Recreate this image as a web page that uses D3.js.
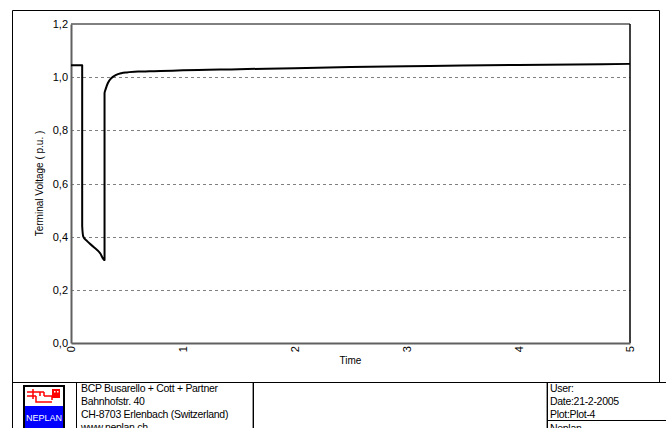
<!DOCTYPE html>
<html>
<head>
<meta charset="utf-8">
<script src="https://cdn.jsdelivr.net/npm/d3@7"></script>
<style>
  body { margin: 0; background: #fff; }
  svg { display: block; font-family: "Liberation Sans", Arial, sans-serif; }
  .ax text { font-size: 11px; fill: #000; }
  .ft { font-size: 10.5px; fill: #000; letter-spacing: -0.3px; }
</style>
</head>
<body>
<script>
// curve (time in s, voltage in p.u.)
var time    = [0, 0.1, 0.1, 0.11, 0.14, 0.2, 0.26, 0.3, 0.3, 0.31, 0.33, 0.36, 0.4, 0.45, 0.5, 0.6, 0.7, 0.8, 1.0, 1.5, 2.0, 2.5, 3.0, 3.5, 4.0, 4.5, 5.0];
var voltage = [1.045, 1.045, 0.44, 0.40, 0.385, 0.362, 0.338, 0.312, 0.94, 0.955, 0.978, 0.996, 1.008, 1.015, 1.018, 1.021, 1.022, 1.023, 1.026, 1.030, 1.034, 1.038, 1.041, 1.044, 1.046, 1.048, 1.050];
var yTicks = [0, 0.2, 0.4, 0.6, 0.8, 1.0, 1.2];
var xTicks = [0, 1, 2, 3, 4, 5];
var footerLeft = ["BCP Busarello + Cott + Partner", "Bahnhofstr. 40", "CH-8703 Erlenbach (Switzerland)", "www.neplan.ch"];
var footerRight = ["User:", "Date:21-2-2005", "Plot:Plot-4"];

var width = 666,
    height = 428;

var svg = d3.select("body").append("svg")
    .attr("width", width)
    .attr("height", height);

var x = d3.scaleLinear().domain([0, 5]).range([71, 630]);
var y = d3.scaleLinear().domain([0, 1.2]).range([343, 24]);

var fmt = function(d) { return d3.format(".1f")(d).replace(".", ","); };

// outer frame
svg.append("path")
    .attr("d", "M12.5,428V10.5H659.5V382")
    .attr("fill", "none")
    .attr("stroke", "#000");

// grid
svg.append("g").selectAll("line")
    .data(yTicks.filter(function(d) { return d > 0 && d < 1.2; }))
  .enter().append("line")
    .attr("x1", x(0)).attr("x2", x(5))
    .attr("y1", function(d) { return Math.round(y(d)) + 0.5; })
    .attr("y2", function(d) { return Math.round(y(d)) + 0.5; })
    .attr("stroke", "#808080")
    .attr("stroke-dasharray", "3,3");

// plot box
svg.append("line").attr("x1", x(0)).attr("x2", x(5)).attr("y1", y(1.2)).attr("y2", y(1.2))
    .attr("stroke", "#808080").attr("stroke-width", 2);
svg.append("line").attr("x1", x(5)).attr("x2", x(5)).attr("y1", y(1.2)).attr("y2", y(0))
    .attr("stroke", "#000").attr("stroke-width", 1.5);

// y axis
var gy = svg.append("g").attr("class", "ax")
    .attr("transform", "translate(" + x(0) + ",0)")
    .call(d3.axisLeft(y).tickValues(yTicks).tickFormat(fmt).tickSize(0).tickPadding(3));
gy.select(".domain").attr("stroke", "#606060").attr("stroke-width", 2);
gy.selectAll("text").attr("font-family", "Liberation Sans, Arial, sans-serif").attr("font-size", 11);

// x axis
var gx = svg.append("g").attr("class", "ax")
    .attr("transform", "translate(0," + y(0) + ")")
    .call(d3.axisBottom(x).tickValues(xTicks).tickFormat(d3.format("d")).tickSize(0));
gx.select(".domain").attr("stroke", "#606060").attr("stroke-width", 2);
gx.selectAll("text")
    .attr("font-family", "Liberation Sans, Arial, sans-serif").attr("font-size", 11)
    .attr("transform", "rotate(-90)")
    .attr("x", -3).attr("y", 0).attr("dy", "0.35em")
    .style("text-anchor", "end");

// axis titles
svg.append("text")
    .attr("transform", "translate(43," + ((y(0) + y(1.2)) / 2) + ") rotate(-90)")
    .attr("text-anchor", "middle")
    .attr("font-size", 10)
    .text("Terminal Voltage ( p.u. )");
svg.append("text")
    .attr("x", (x(0) + x(5)) / 2).attr("y", 364)
    .attr("text-anchor", "middle")
    .attr("font-size", 10)
    .text("Time");

// curve
var line = d3.line()
    .x(function(d) { return x(d[0]); })
    .y(function(d) { return y(d[1]); })
    .curve(d3.curveMonotoneX);
svg.append("path")
    .datum(d3.zip(time, voltage))
    .attr("fill", "none")
    .attr("stroke", "#000")
    .attr("stroke-width", 2)
    .attr("stroke-linejoin", "round")
    .attr("d", line);

// footer
var ft = svg.append("g");
ft.append("line").attr("x1", 12).attr("x2", 666).attr("y1", 382.5).attr("y2", 382.5).attr("stroke", "#000");
ft.append("line").attr("x1", 76.5).attr("x2", 76.5).attr("y1", 382).attr("y2", 428).attr("stroke", "#000");
[[252.5, "#999"], [253.5, "#000"], [546.5, "#999"], [547.5, "#000"]].forEach(function(p) {
  ft.append("line").attr("x1", p[0]).attr("x2", p[0]).attr("y1", 383).attr("y2", 428).attr("stroke", p[1]);
});
ft.append("line").attr("x1", 547).attr("x2", 666).attr("y1", 420.5).attr("y2", 420.5).attr("stroke", "#000");

ft.selectAll("text.l").data(footerLeft).enter().append("text")
    .attr("class", "ft")
    .attr("x", 81).attr("y", function(d, i) { return 392 + i * 13; })
    .text(function(d) { return d; });
ft.selectAll("text.r").data(footerRight).enter().append("text")
    .attr("class", "ft")
    .attr("x", 550).attr("y", function(d, i) { return 392 + i * 13; })
    .text(function(d) { return d; });
ft.append("text").attr("class", "ft").attr("x", 550).attr("y", 432).text("Neplan");

// logo
var lg = ft.append("g");
lg.append("rect").attr("x", 24).attr("y", 386).attr("width", 40).attr("height", 44)
    .attr("fill", "#fff").attr("stroke", "#000").attr("stroke-width", 2);
lg.append("rect").attr("x", 25).attr("y", 406).attr("width", 38).attr("height", 24).attr("fill", "#0000ff");
lg.append("text").attr("x", 44).attr("y", 421).attr("text-anchor", "middle")
    .attr("font-size", 9).attr("fill", "#fff").text("NEPLAN");
lg.append("path")
    .attr("d", "M27,392H40M33,389V399M27,396H36M36,396V402H52M44,396H52V400M40,392V396M44,392V396M40,392H44")
    .attr("fill", "none").attr("stroke", "#f00").attr("stroke-width", 1.5);
lg.append("rect").attr("x", 52).attr("y", 389).attr("width", 8).attr("height", 9).attr("fill", "#f00");
lg.append("rect").attr("x", 54).attr("y", 391).attr("width", 1.5).attr("height", 1.5).attr("fill", "#fff");
lg.append("rect").attr("x", 57).attr("y", 391).attr("width", 1.5).attr("height", 1.5).attr("fill", "#fff");
</script>
</body>
</html>
